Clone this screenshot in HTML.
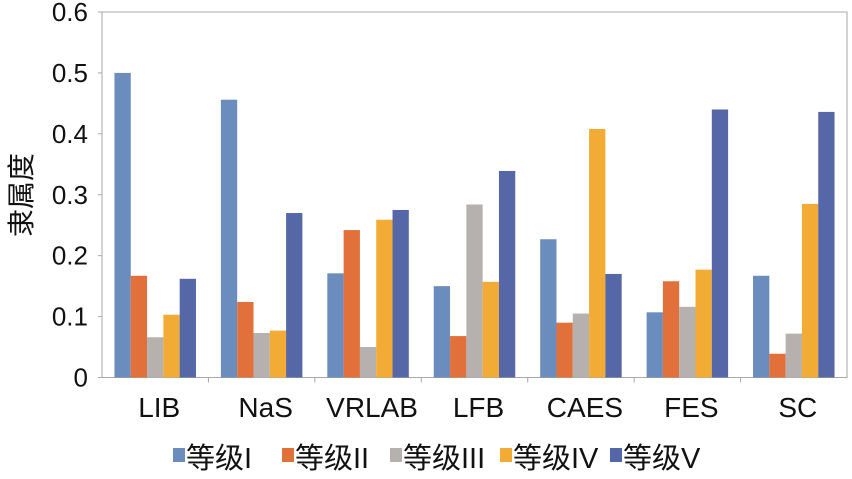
<!DOCTYPE html>
<html><head><meta charset="utf-8"><style>
body{margin:0;background:#fff}
text{font-family:"Liberation Sans","Noto Sans CJK SC",sans-serif;fill:#111}
</style></head><body>
<svg id="c" width="852" height="474"></svg>
<script>
const categories=["LIB","NaS","VRLAB","LFB","CAES","FES","SC"];
const grade1=[0.500,0.456,0.171,0.150,0.227,0.107,0.167];
const grade2=[0.167,0.124,0.242,0.068,0.090,0.158,0.039];
const grade3=[0.066,0.073,0.050,0.284,0.105,0.116,0.072];
const grade4=[0.103,0.077,0.259,0.157,0.408,0.177,0.285];
const grade5=[0.162,0.270,0.275,0.339,0.170,0.440,0.436];
const seriesNames=["等级I","等级II","等级III","等级IV","等级V"];
const yTicks=[0,0.1,0.2,0.3,0.4,0.5,0.6];
const yTickLabels=["0","0.1","0.2","0.3","0.4","0.5","0.6"];
const colors=["#6a8dbd","#e2703a","#b6b0ae","#f2ac35","#5567a6"];
const series=[grade1,grade2,grade3,grade4,grade5];
const svg=document.getElementById('c');
const NS="http://www.w3.org/2000/svg";
const L=102,R=847,T=12,B=377.5;
const y=v=>B-(v/0.6)*(B-T);
const gw=(R-L)/categories.length;
const x=i=>L+i*gw;
function mk(t,a,p){const e=document.createElementNS(NS,t);for(const k in a)e.setAttribute(k,a[k]);(p||svg).appendChild(e);return e;}
const frame=mk('rect',{x:L,y:T,width:R-L,height:B-T,fill:'none',stroke:'#a8a8a8','stroke-width':1});


yTicks.forEach((v,i)=>{
  const tk=mk('line',{x1:L-4,x2:L,y1:y(v),y2:y(v),stroke:'#a8a8a8'});
  
  
  const t=mk('text',{x:88,y:y(v)+9,'text-anchor':'end','font-size':26});
  t.textContent=yTickLabels[i];
  
  
});
const bw=16.3, off=(gw-5*bw)/2;
categories.forEach((c,i)=>{
  if(i>0){const tk=mk('line',{x1:x(i),x2:x(i),y1:B,y2:B+5,stroke:'#a8a8a8'});
    
    }
  series.forEach((s,j)=>{
    const r=mk('rect',{x:x(i)+off+j*bw,y:y(s[i]),width:bw,height:B-y(s[i]),fill:colors[j]});
    
    
  });
  const t=mk('text',{x:x(i)+gw/2+4,y:417,'text-anchor':'middle','font-size':28});
  t.textContent=c;
  
  
});
const yt=mk('text',{x:0,y:0,'font-size':28,transform:'translate(31,195) rotate(-90)','text-anchor':'middle'});
yt.textContent="隶属度";


const lx=[173,282,390,500,610];
seriesNames.forEach((n,j)=>{
  const g=mk('g',{});
  
  
  mk('rect',{x:lx[j],y:448,width:12,height:14,fill:colors[j]},g);
  const t=mk('text',{x:lx[j]+13,y:468,'font-size':29},g);
  t.textContent=n;
});
</script>
</body></html>
